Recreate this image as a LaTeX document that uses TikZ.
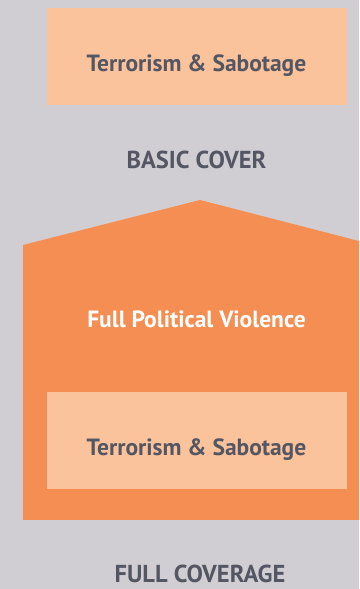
\documentclass[tikz,border=0pt]{standalone}
\usepackage{fontspec}
\setmainfont{PT Sans}
\definecolor{bg}{HTML}{D0CED2}
\definecolor{peach}{HTML}{FBC39B}
\definecolor{orng}{HTML}{F58E53}
\definecolor{ink}{HTML}{545663}
\tikzset{
  box/.style={fill=peach, draw=none, minimum width=300pt, minimum height=97pt, inner sep=0pt},
  label/.style={font=\fontsize{23.5}{28}\selectfont\bfseries, text=ink, inner sep=0pt, anchor=base},
  caption/.style={font=\fontsize{24.5}{29}\selectfont\bfseries, text=ink, inner sep=0pt, anchor=base}
}
\begin{document}
\begin{tikzpicture}[x=1pt,y=1pt]
\fill[bg] (0,0) rectangle (359,589);
\useasboundingbox (0,0) rectangle (359,589);
\node[box] (basic) at (197,532.5) {};
\node[label] (basictxt) at (196.5,517) {Terrorism \& Sabotage};
\node[caption] (basiccap) at (196.5,420.5) {BASIC COVER};
\fill[orng] (23,69) -- (23,344) -- (200,389) -- (359,348) -- (359,69) -- cycle;
\node[label, text=white] (fpv) at (196.5,261.5) {Full Political Violence};
\node[box] (inner) at (197,148.5) {};
\node[label] (innertxt) at (196.5,133) {Terrorism \& Sabotage};
\node[caption] (fullcap) at (200,6.5) {FULL COVERAGE};
\end{tikzpicture}
\end{document}
